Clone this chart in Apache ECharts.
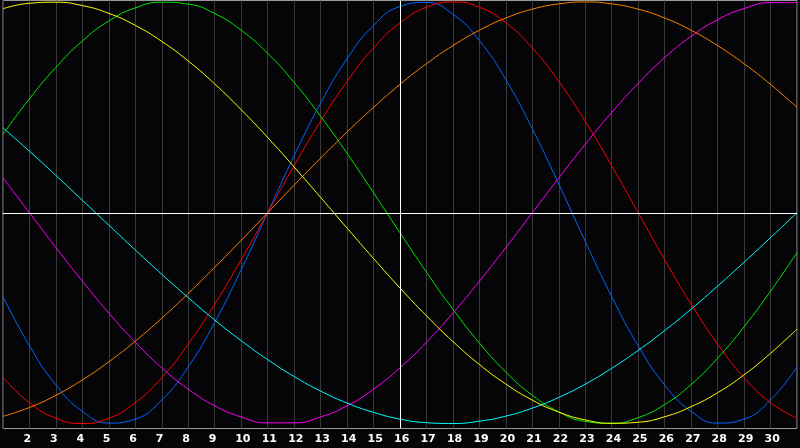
<!DOCTYPE html>
<html>
<head>
<meta charset="utf-8">
<script src="https://cdn.jsdelivr.net/npm/echarts@6/dist/echarts.min.js"></script>
<style>
html,body{margin:0;padding:0;background:#050508;}
#chart{width:800px;height:448px;}
</style>
</head>
<body>
<div id="chart"></div>
<script>
// Days of the month shown on the x axis
const days = [1,2,3,4,5,6,7,8,9,10,11,12,13,14,15,16,17,18,19,20,21,22,23,24,25,26,27,28,29,30,31];
// Tick labels shown under the axis
const tickLabels = ['2','3','4','5','6','7','8','9','10','11','12','13','14','15','16','17','18','19','20','21','22','23','24','25','26','27','28','29','30'];
const todayDay = 16;

// Cycle values per day
const physical = [-0.398,-0.631,-0.817,-0.942,-0.998,-0.979,-0.888,-0.731,-0.520,-0.270,0,0.270,0.520,0.731,0.888,0.979,0.998,0.942,0.817,0.631,0.398,0.136,-0.136,-0.398,-0.631,-0.817,-0.942,-0.998,-0.979,-0.888,-0.731];
const emotional = [-0.782,-0.901,-0.975,-1,-0.975,-0.901,-0.782,-0.623,-0.434,-0.223,0,0.223,0.434,0.623,0.782,0.901,0.975,1,0.975,0.901,0.782,0.623,0.434,0.223,0,-0.223,-0.434,-0.623,-0.782,-0.901,-0.975];
const intellectual = [0.372,0.541,0.690,0.815,0.910,0.972,0.999,0.990,0.945,0.866,0.756,0.618,0.458,0.282,0.095,-0.095,-0.282,-0.458,-0.618,-0.756,-0.866,-0.945,-0.990,-0.999,-0.972,-0.910,-0.815,-0.690,-0.541,-0.372,-0.189];
const intuitive = [0.165,0,-0.165,-0.325,-0.476,-0.614,-0.736,-0.837,-0.916,-0.969,-0.997,-0.997,-0.969,-0.916,-0.837,-0.736,-0.614,-0.476,-0.325,-0.165,0,0.165,0.325,0.476,0.614,0.736,0.837,0.916,0.969,0.997,0.997];
const aesthetic = [0.968,0.994,0.999,0.983,0.946,0.889,0.813,0.720,0.611,0.489,0.357,0.217,0.073,-0.073,-0.217,-0.357,-0.489,-0.611,-0.720,-0.813,-0.889,-0.946,-0.983,-0.999,-0.994,-0.968,-0.920,-0.854,-0.769,-0.667,-0.552];
const awareness = [-0.966,-0.924,-0.866,-0.793,-0.707,-0.609,-0.5,-0.383,-0.259,-0.131,0,0.131,0.259,0.383,0.5,0.609,0.707,0.793,0.866,0.924,0.966,0.991,1,0.991,0.966,0.924,0.866,0.793,0.707,0.609,0.5];
const spiritual = [0.403,0.292,0.177,0.059,-0.059,-0.177,-0.292,-0.403,-0.509,-0.607,-0.697,-0.777,-0.846,-0.903,-0.947,-0.979,-0.996,-1.000,-0.989,-0.965,-0.927,-0.876,-0.813,-0.738,-0.653,-0.559,-0.457,-0.348,-0.235,-0.118,0];

const seriesDefs = [
  {name:'Physical', values: physical, color:'#0066ff'},
  {name:'Emotional', values: emotional, color:'#ff0000'},
  {name:'Intellectual', values: intellectual, color:'#00e800'},
  {name:'Intuitive', values: intuitive, color:'#ff00ff'},
  {name:'Awareness', values: awareness, color:'#ff8000'},
  {name:'Spiritual', values: spiritual, color:'#00ffff'},
  {name:'Aesthetic', values: aesthetic, color:'#ffff00'}
];

const chart = echarts.init(document.getElementById('chart'));
const series = seriesDefs.map(s => ({
  name: s.name,
  type: 'line',
  data: days.map((d, i) => [d, s.values[i]]),
  smooth: true,
  symbol: 'none',
  lineStyle: {color: s.color, width: 1},
  itemStyle: {color: s.color},
  z: 3
}));
series.unshift({
  type: 'line',
  data: [],
  z: 2,
  silent: true,
  markLine: {
    silent: true,
    symbol: ['none','none'],
    label: {show: false},
    lineStyle: {color: '#ffffff', width: 1, type: 'solid'},
    data: [{xAxis: todayDay}, {yAxis: 0}]
  }
});

chart.setOption({
  animation: false,
  backgroundColor: '#050508',
  grid: {left: 0.5, right: 0.5, top: 0.5, bottom: 19.5, show: true, borderColor: '#9a9a9a', borderWidth: 1, backgroundColor: 'transparent'},
  xAxis: {
    type: 'value', min: 1, max: 31, interval: 1,
    axisLine: {show: true, lineStyle: {color: '#a8a8a8', width: 1}},
    axisTick: {show: false},
    splitLine: {show: true, lineStyle: {color: '#3a3a3a', width: 1}},
    axisLabel: {
      show: true, color: '#ffffff', fontFamily: 'DejaVu Sans', fontWeight: 'bold', fontSize: 11, margin: 5,
      align: 'left',
      padding: [0, 0, 0, -6],
      formatter: v => tickLabels.includes(String(v)) ? String(v) : ''
    }
  },
  yAxis: {
    type: 'value', min: -1.0237, max: 1.0071,
    axisLine: {show: false}, axisTick: {show: false}, axisLabel: {show: false}, splitLine: {show: false}
  },
  series: series
});
</script>
</body>
</html>
